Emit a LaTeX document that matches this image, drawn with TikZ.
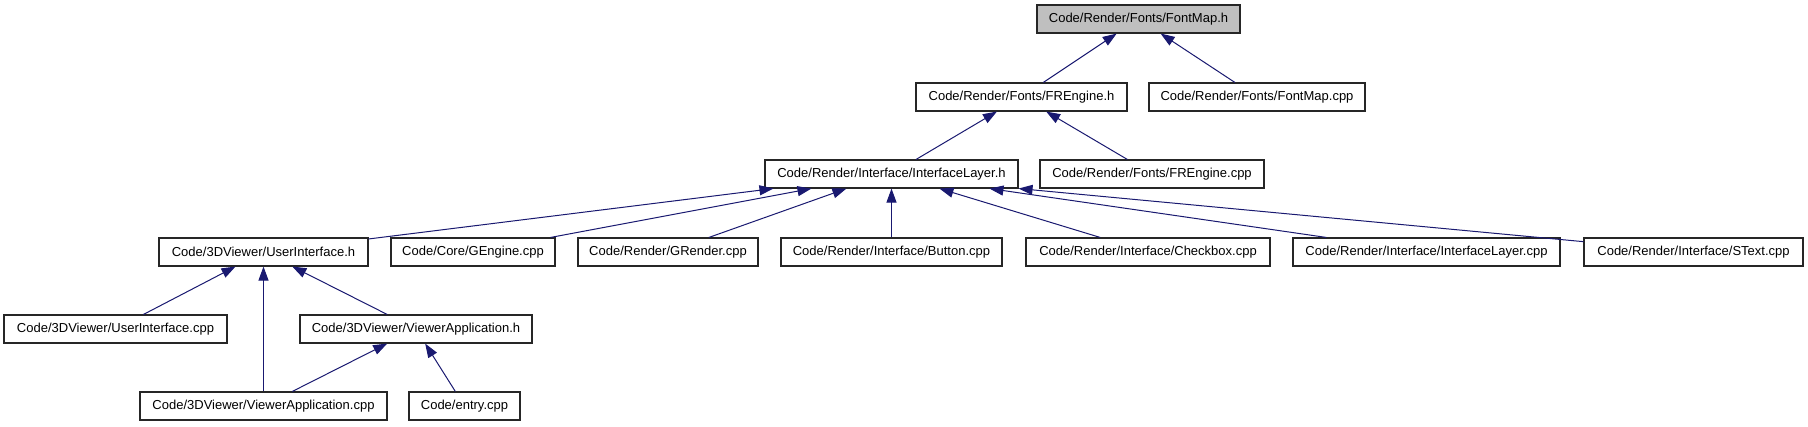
\documentclass[tikz,border=0pt]{standalone}
\usepackage{fontspec}
\setmainfont{Liberation Sans}
\usetikzlibrary{arrows.meta}
\definecolor{edgeblue}{HTML}{191970}
\definecolor{rootgray}{HTML}{BFBFBF}
\begin{document}
\begin{tikzpicture}[x=1pt, y=-1pt,
  file/.style={draw=black!85, line width=1.1pt, fill=white, minimum height=28pt,
    inner sep=0pt, font=\fontsize{13}{15}\selectfont},
  edge/.style={edgeblue, line width=1pt, -{Triangle[length=14pt, width=10pt]}}]
  \useasboundingbox (0,0) rectangle (1808,427);

  % Define files
  \node[file, fill=rootgray, minimum width=203pt] (fontmaph) at (1138.5,19) {Code/Render/Fonts/FontMap.h};

  \node[file, minimum width=211pt] (frengineh) at (1021.5,97) {Code/Render/Fonts/FREngine.h};
  \node[file, minimum width=216pt] (fontmapcpp) at (1257,97) {Code/Render/Fonts/FontMap.cpp};

  \node[file, minimum width=253pt] (ilayerh) at (891.5,174) {Code/Render/Interface/InterfaceLayer.h};
  \node[file, minimum width=224pt] (frenginecpp) at (1152,174) {Code/Render/Fonts/FREngine.cpp};

  \node[file, minimum width=209pt] (uih) at (263.5,252) {Code/3DViewer/UserInterface.h};
  \node[file, minimum width=164pt] (gengine) at (473,252) {Code/Core/GEngine.cpp};
  \node[file, minimum width=180pt] (grender) at (668,252) {Code/Render/GRender.cpp};
  \node[file, minimum width=221pt] (button) at (891.5,252) {Code/Render/Interface/Button.cpp};
  \node[file, minimum width=244pt] (checkbox) at (1148,252) {Code/Render/Interface/Checkbox.cpp};
  \node[file, minimum width=267pt] (ilayercpp) at (1426.5,252) {Code/Render/Interface/InterfaceLayer.cpp};
  \node[file, minimum width=219pt] (stext) at (1693.5,252) {Code/Render/Interface/SText.cpp};

  \node[file, minimum width=223pt] (uicpp) at (115.5,329) {Code/3DViewer/UserInterface.cpp};
  \node[file, minimum width=232pt] (vapph) at (416,329) {Code/3DViewer/ViewerApplication.h};

  \node[file, minimum width=247pt] (vappcpp) at (263.5,406) {Code/3DViewer/ViewerApplication.cpp};
  \node[file, minimum width=111pt] (entry) at (464.5,406) {Code/entry.cpp};

  % Draw includes
  \draw[edge] (frengineh) -- (fontmaph);
  \draw[edge] (fontmapcpp) -- (fontmaph);
  \draw[edge] (ilayerh) -- (frengineh);
  \draw[edge] (frenginecpp) -- (frengineh);
  \draw[edge] (uih) -- ([xshift=9pt]ilayerh.south west);
  \draw[edge] (gengine) -- ([xshift=47pt]ilayerh.south west);
  \draw[edge] (grender) -- ([xshift=82pt]ilayerh.south west);
  \draw[edge] (button) -- (ilayerh);
  \draw[edge] (checkbox) -- ([xshift=175pt]ilayerh.south west);
  \draw[edge] (ilayercpp) -- ([xshift=225pt]ilayerh.south west);
  \draw[edge] (stext) -- (ilayerh.south east);
  \draw[edge] (uicpp) -- (uih);
  \draw[edge] (vappcpp) -- (uih);
  \draw[edge] (vapph) -- (uih);
  \draw[edge] (vappcpp) -- (vapph);
  \draw[edge] (entry) -- (vapph);
\end{tikzpicture}
\end{document}
